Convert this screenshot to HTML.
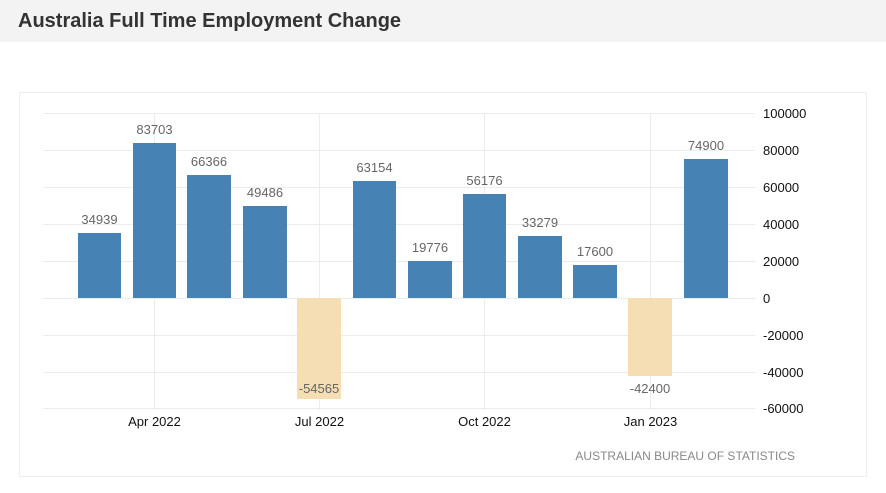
<!DOCTYPE html>
<html><head><meta charset="utf-8"><style>
body{margin:0;width:886px;height:488px;background:#fff;overflow:hidden;font-family:"Liberation Sans",sans-serif}
</style></head><body>
<svg width="886" height="488" xmlns="http://www.w3.org/2000/svg" font-family="Liberation Sans, DejaVu Sans, sans-serif">
<rect x="0" y="0" width="886" height="42" fill="#f3f3f3"/>
<text x="18" y="27" font-size="20" font-weight="bold" fill="#333">Australia Full Time Employment Change</text>
<rect x="19.5" y="92.5" width="847" height="384" fill="#fff" stroke="#eeeeee"/>
<g stroke="#ececec" stroke-width="1">
<line x1="43" x2="755" y1="113.5" y2="113.5"/>
<line x1="43" x2="755" y1="150.5" y2="150.5"/>
<line x1="43" x2="755" y1="187.5" y2="187.5"/>
<line x1="43" x2="755" y1="224.5" y2="224.5"/>
<line x1="43" x2="755" y1="261.5" y2="261.5"/>
<line x1="43" x2="755" y1="298.5" y2="298.5"/>
<line x1="43" x2="755" y1="335.5" y2="335.5"/>
<line x1="43" x2="755" y1="372.5" y2="372.5"/>
<line x1="43" x2="755" y1="408.5" y2="408.5"/>
<line x1="154.5" x2="154.5" y1="113" y2="410"/>
<line x1="319.5" x2="319.5" y1="113" y2="410"/>
<line x1="484.5" x2="484.5" y1="113" y2="410"/>
<line x1="650.5" x2="650.5" y1="113" y2="410"/>
</g>
<g fill="#4682b4">
<rect x="78" y="233" width="43" height="65"/>
<rect x="133" y="143" width="43" height="155"/>
<rect x="187" y="175" width="44" height="123"/>
<rect x="243" y="206" width="44" height="92"/>
<rect x="353" y="181" width="43" height="117"/>
<rect x="408" y="261" width="44" height="37"/>
<rect x="463" y="194" width="43" height="104"/>
<rect x="518" y="236" width="44" height="62"/>
<rect x="573" y="265" width="44" height="33"/>
<rect x="684" y="159" width="44" height="139"/>
</g>
<g fill="#f5deb3">
<rect x="297" y="298" width="44" height="101"/>
<rect x="628" y="298" width="44" height="78"/>
</g>
<g font-size="13" fill="#666" text-anchor="middle">
<text x="99.5" y="224">34939</text>
<text x="154.5" y="134">83703</text>
<text x="209" y="166">66366</text>
<text x="265" y="197">49486</text>
<text x="319" y="393">-54565</text>
<text x="374.5" y="172">63154</text>
<text x="430" y="252">19776</text>
<text x="484.5" y="185">56176</text>
<text x="540" y="227">33279</text>
<text x="595" y="256">17600</text>
<text x="650" y="393">-42400</text>
<text x="706" y="150">74900</text>
</g>
<g font-size="13" fill="#111">
<text x="763" y="118">100000</text>
<text x="763" y="155">80000</text>
<text x="763" y="192">60000</text>
<text x="763" y="229">40000</text>
<text x="763" y="266">20000</text>
<text x="763" y="303">0</text>
<text x="763" y="340">-20000</text>
<text x="763" y="377">-40000</text>
<text x="763" y="413">-60000</text>
</g>
<g font-size="13" fill="#111" text-anchor="middle">
<text x="154.5" y="426">Apr 2022</text>
<text x="319.5" y="426">Jul 2022</text>
<text x="484.5" y="426">Oct 2022</text>
<text x="650.5" y="426">Jan 2023</text>
</g>
<text x="795" y="460" font-size="12" fill="#888" text-anchor="end">AUSTRALIAN BUREAU OF STATISTICS</text>
</svg>
</body></html>
